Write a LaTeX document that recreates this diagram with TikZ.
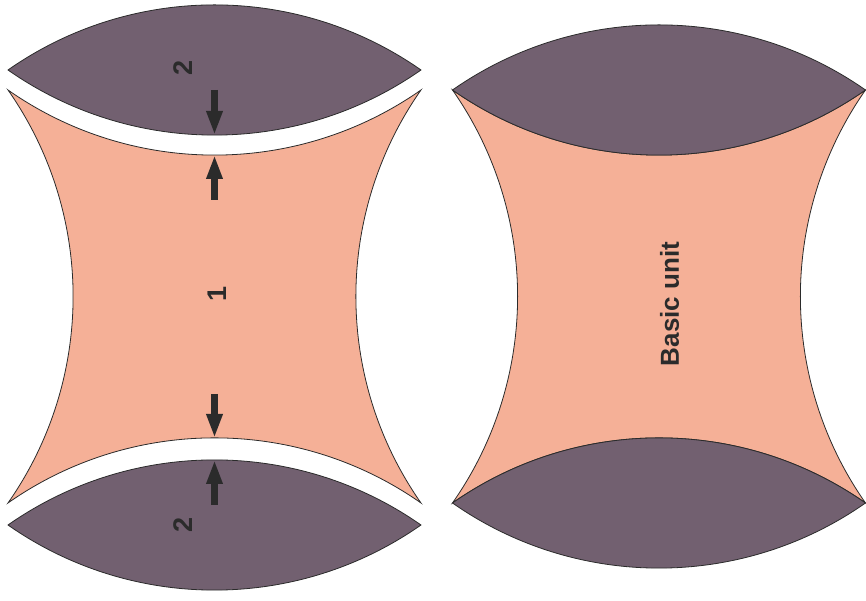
\documentclass[tikz,border=0pt]{standalone}
\usepackage{fontspec}
\setmainfont{Liberation Sans}
\usetikzlibrary{arrows.meta}
\definecolor{flesh}{RGB}{245,176,151}
\definecolor{plum}{RGB}{114,96,112}
\definecolor{ink}{RGB}{43,43,43}
\tikzset{
	unit/.style={fill=flesh, draw=ink, line width=0.8pt},
	lens/.style={fill=plum, draw=ink, line width=0.8pt},
	push/.style={ink, line width=7pt, -{Triangle[length=24pt,width=15pt]}},
	tag/.style={ink, rotate=90, inner sep=0pt, font=\bfseries\fontsize{27}{27}\selectfont},
}

\begin{document}
\begin{tikzpicture}[x=1pt,y=1pt]
	\def \rad{ 360 };
	\def \hi{ 511 };
	\def \lo{ 98 };
	\useasboundingbox (0,0) rectangle (866,601);

	\coordinate (tl) at (8,\hi);
	\coordinate (bl) at (8,\lo);
	\coordinate (cap1) at (8,\hi+20);
	\coordinate (cap2) at (8,\lo-22);
	\coordinate (tr) at (452.5,\hi);
	\coordinate (br) at (452.5,\lo);

	\draw[unit] (tl) arc[start angle=235, end angle=305, radius=\rad] arc[start angle=145, end angle=215, radius=\rad] arc[start angle=55, end angle=125, radius=\rad] arc[start angle=-35, end angle=35, radius=\rad] -- cycle;
	\draw[lens] (cap1) arc[start angle=125, end angle=55, radius=\rad] arc[start angle=305, end angle=235, radius=\rad] -- cycle;
	\draw[lens] (cap2) arc[start angle=125, end angle=55, radius=\rad] arc[start angle=305, end angle=235, radius=\rad] -- cycle;

	\draw[unit] (tr) arc[start angle=235, end angle=305, radius=\rad] arc[start angle=145, end angle=215, radius=\rad] arc[start angle=55, end angle=125, radius=\rad] arc[start angle=-35, end angle=35, radius=\rad] -- cycle;
	\draw[lens] (tr) arc[start angle=125, end angle=55, radius=\rad] arc[start angle=305, end angle=235, radius=\rad] -- cycle;
	\draw[lens] (br) arc[start angle=125, end angle=55, radius=\rad] arc[start angle=305, end angle=235, radius=\rad] -- cycle;

	\coordinate (0) at (214.5,\hi);
	\coordinate (1) at (214.5,466);
	\coordinate (2) at (214.5,401);
	\coordinate (3) at (214.5,446);
	\coordinate (4) at (214.5,207);
	\coordinate (5) at (214.5,163);
	\coordinate (6) at (214.5,96);
	\coordinate (7) at (214.5,141);
	\draw[push] (0) -- (1);
	\draw[push] (2) -- (3);
	\draw[push] (4) -- (5);
	\draw[push] (6) -- (7);

	\node[tag] (two1) at (183,533) {2};
	\node[tag] (two2) at (183,76) {2};
	\node[tag] (one) at (217,307) {1};
	\node[tag, font=\bfseries\fontsize{26}{26}\selectfont] (basic) at (669.5,297) {Basic unit};
\end{tikzpicture}
\end{document}
